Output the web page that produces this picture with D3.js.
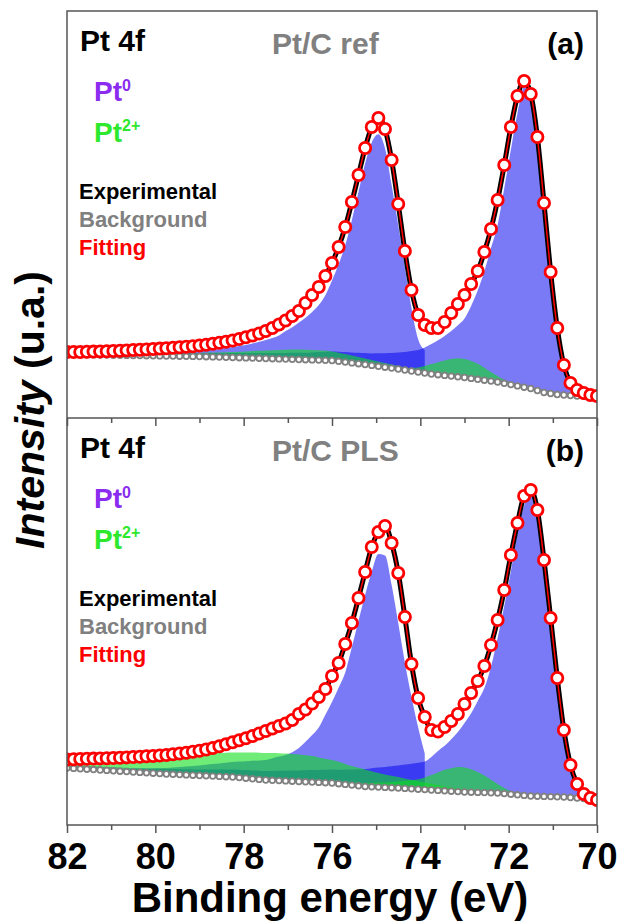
<!DOCTYPE html>
<html>
<head>
<meta charset="utf-8">
<script src="https://cdn.jsdelivr.net/npm/d3@7"></script>
<style>
  body { margin: 0; background: #fff; }
  svg { display: block; font-family: "Liberation Sans", Arial, sans-serif; }
</style>
</head>
<body>
<div id="svg-container"></div>
<script>
// binding energy grid (eV), one point per red circle
const energy = [
  82, 81.85, 81.7, 81.55, 81.4, 81.25, 81.1, 80.95, 80.8, 80.65,
  80.5, 80.35, 80.2, 80.05, 79.9, 79.75, 79.6, 79.45, 79.3, 79.15,
  79, 78.85, 78.7, 78.55, 78.4, 78.25, 78.1, 77.95, 77.8, 77.65,
  77.5, 77.35, 77.2, 77.05, 76.9, 76.75, 76.6, 76.45, 76.3, 76.15,
  76, 75.85, 75.7, 75.55, 75.4, 75.25, 75.1, 74.95, 74.8, 74.65,
  74.5, 74.35, 74.2, 74.05, 73.9, 73.75, 73.6, 73.45, 73.3, 73.15,
  73, 72.85, 72.7, 72.55, 72.4, 72.25, 72.1, 71.95, 71.8, 71.65,
  71.5, 71.35, 71.2, 71.05, 70.9, 70.75, 70.6, 70.45, 70.3, 70.15, 70];

const majorTicks = [82, 80, 78, 76, 74, 72, 70];
const minorTicks = [81, 79, 77, 75, 73, 71];

// ---- (a) Pt/C ref ----
const fitA = [
  66, 66, 66, 66.2, 66.4, 66.6, 66.8, 67, 67.3, 67.6,
  68, 68.3, 68.6, 69, 69.4, 69.8, 70.2, 70.7, 71.2, 71.8,
  72.5, 73.3, 74.2, 75.2, 76.3, 77.5, 79, 80.7, 82.5, 84.5,
  87, 90, 93.5, 97.5, 102, 107, 115, 123, 131, 142,
  155, 171, 191, 216, 243, 270, 291, 300, 289, 258,
  214, 167, 128, 103, 93, 90, 90, 96, 105, 114,
  123, 134, 147, 166, 189, 218, 253, 291, 322, 337,
  324, 281, 215, 146, 90, 53, 35, 28, 25, 23, 22];
const bgA = [
  63.5, 63.4, 63.3, 63.2, 63.1, 63, 62.9, 62.8, 62.7, 62.6,
  62.5, 62.4, 62.3, 62.2, 62.1, 62, 61.9, 61.8, 61.7, 61.6,
  61.5, 61.3, 61.1, 60.9, 60.7, 60.5, 60.3, 60.1, 59.9, 59.7,
  59.5, 59.3, 59.1, 58.9, 58.7, 58.5, 58.3, 58.1, 57.9, 57.7,
  57.5, 56.7, 55.9, 55.1, 54.3, 53.5, 52.6, 51.7, 50.8, 49.9,
  49, 48, 47, 46, 45, 44, 43.3, 42.6, 41.9, 41.2,
  40.5, 39.6, 38.7, 37.8, 36.9, 36, 34.7, 33.4, 32.1, 30.8,
  29.5, 27.5, 25.5, 24.5, 23.5, 23, 22.5, 22, 21.7, 21.4, 21];
// Pt0 component near 74.9 eV (drawn up to the crossing only)
const pt0HighA = [
  0.5, 0.5, 0.6, 0.6, 0.7, 0.8, 0.9, 1, 1, 1.1,
  1.2, 1.3, 1.5, 1.8, 2.1, 2.5, 2.9, 3.5, 4.1, 4.8,
  5.5, 6.2, 7, 8, 9.2, 10.5, 11.7, 13, 14.7, 16.5,
  18.5, 20.7, 23.5, 28, 32, 37, 42, 48, 55, 65,
  80, 97, 117, 143, 172, 201, 223, 232, 219, 183,
  144, 103, 63, 33, 23, null, null, null, null, null,
  null, null, null, null, null, null, null, null, null, null,
  null, null, null, null, null, null, null, null, null, null, null];
// Pt0 component near 71.6 eV
const pt0LowA = [
  1.7, 1.7, 1.8, 1.8, 1.9, 2, 2.1, 2.2, 2.3, 2.4,
  2.5, 2.6, 2.7, 2.8, 2.9, 3, 3.1, 3.2, 3.3, 3.4,
  3.5, 3.7, 3.9, 4.1, 4.3, 4.5, 4.7, 4.9, 5.1, 5.3,
  5.5, 5.7, 6, 6.2, 6.5, 6.7, 7, 7.5, 8, 8.5,
  9, 9.5, 10, 10.5, 11, 11.5, 12, 13, 14, 15,
  16.5, 18, 20, 22, 25.5, 30, 34.5, 39.5, 45, 51.5,
  59, 72.5, 89, 109, 133, 157, 195, 235, 273, 300,
  291, 251, 187, 119, 65, 27, 10.5, 4, 1.5, 0.5, 0.3];
// Pt2+ components
const pt2HighA = [
  0.3, 0.3, 0.4, 0.4, 0.5, 0.5, 0.6, 0.7, 0.8, 0.9,
  1, 1.2, 1.4, 1.6, 1.8, 2, 2.3, 2.6, 2.9, 3.2,
  3.5, 3.9, 4.3, 4.7, 5.1, 5.5, 6, 6.5, 7, 7.5,
  8, 8.5, 9, 9.4, 9.7, 10, 10, 10, 9.8, 9.5,
  9, 8.5, 8, 7.5, 6.8, 6, 5.4, 4.8, 4.2, 3.6,
  3, 2.5, 2, 1.7, 1.4, 1.2, 1, 0.8, 0.7, 0.6,
  0.5, 0.5, 0.4, 0.4, 0.3, 0.3, 0.3, 0.2, 0.2, 0.2,
  0.2, 0.2, 0.1, 0.1, 0.1, 0.1, 0.1, 0.1, 0.1, 0.1, 0.1];
const pt2LowA = [
  0.1, 0.1, 0.1, 0.1, 0.1, 0.1, 0.1, 0.1, 0.1, 0.1,
  0.1, 0.1, 0.1, 0.2, 0.2, 0.2, 0.2, 0.2, 0.2, 0.2,
  0.3, 0.3, 0.3, 0.3, 0.3, 0.3, 0.4, 0.4, 0.4, 0.4,
  0.5, 0.5, 0.5, 0.5, 0.6, 0.6, 0.6, 0.6, 0.7, 0.7,
  0.7, 0.8, 0.8, 0.8, 0.9, 0.9, 1, 1, 1.1, 1.3,
  1.6, 2, 3, 4.5, 7, 10, 12.5, 15, 17, 18.5,
  18.5, 17.5, 15.5, 12.5, 9, 6, 3.5, 2, 1, 0.5,
  0.3, 0.2, 0.2, 0.1, 0.1, 0.1, 0.1, 0.1, 0.1, 0.1, 0.1];

// ---- (b) Pt/C PLS ----
const fitB = [
  65.5, 65.7, 66, 66.2, 66.4, 66.6, 66.8, 67, 67.3, 67.6,
  68, 68.3, 68.7, 69, 69.5, 70, 70.7, 71.5, 72.3, 73.2,
  74.2, 75.5, 77, 78.7, 80.7, 82.7, 84.7, 86.8, 89, 91.5,
  94, 96.5, 99, 101.5, 105, 111, 115.5, 121.5, 128, 136,
  149, 162, 181, 202, 227, 253, 278, 293, 299, 282,
  252, 208, 161, 127, 108, 95, 93.5, 98, 104, 111,
  121, 132, 144, 159, 180, 205, 235, 270, 302, 329,
  335, 315, 265, 207, 147, 95, 60, 41, 31, 27, 25];
const bgB = [
  57, 56.6, 56.2, 55.8, 55.4, 55, 54.6, 54.2, 53.8, 53.4,
  53, 52.6, 52.2, 51.8, 51.4, 51, 50.7, 50.4, 50.1, 49.8,
  49.5, 49.2, 48.9, 48.6, 48.3, 48, 47.4, 46.8, 46.2, 45.6,
  45, 44.7, 44.4, 44.1, 43.8, 43.5, 43.2, 42.9, 42.6, 42.3,
  42, 41.3, 40.6, 39.9, 39.2, 38.5, 38.2, 37.9, 37.6, 37.3,
  37, 36.6, 36.2, 35.8, 35.4, 35, 34.6, 34.2, 33.8, 33.4,
  33, 32.8, 32.6, 32.4, 32.2, 32, 31.4, 30.8, 30.2, 29.6,
  29, 28.8, 28.6, 28.4, 28.2, 28, 27.5, 27, 26.5, 26, 25.5];
const pt0HighB = [
  0, 0, 0, 0, 0.1, 0.2, 0.4, 0.7, 1.2, 2,
  3, 3.6, 4.2, 4.8, 5.4, 6, 6.8, 7.6, 8.4, 9.2,
  10, 11, 12, 13, 14, 15, 16, 17, 18, 19,
  20, 22, 24, 26, 29, 33.5, 40, 47, 55, 68,
  81, 96, 112, 138, 165, 191.5, 215, 233, 232, 203,
  165, 126, 92, 62, 36, null, null, null, null, null,
  null, null, null, null, null, null, null, null, null, null,
  null, null, null, null, null, null, null, null, null, null, null];
const pt0LowB = [
  3, 3.1, 3.2, 3.3, 3.4, 3.5, 3.6, 3.7, 3.8, 3.9,
  4, 4.2, 4.4, 4.6, 4.8, 5, 5.2, 5.4, 5.6, 5.8,
  6, 6.3, 6.6, 6.9, 7.2, 7.5, 7.8, 8.1, 8.4, 8.7,
  9, 9.4, 9.8, 10.2, 10.6, 11, 11.5, 12, 12.5, 13,
  13.5, 14, 15, 15.5, 16.5, 17.5, 18.5, 19.5, 20.5, 21.5,
  22.5, 23.8, 25, 26.5, 28, 33, 39.5, 45, 52, 59.5,
  69, 79, 91.5, 104.5, 126, 155, 187.5, 223, 262, 290,
  302, 284, 234, 177, 117, 65, 30.5, 13, 5.5, 2, 0.5];
const pt2HighB = [
  5, 5.5, 6, 6.5, 7, 8, 9, 10, 11, 12,
  13, 14, 15, 16, 17, 18, 18.8, 19.6, 20.4, 21,
  21.6, 22.2, 22.8, 23.4, 24, 24.6, 25.2, 25.8, 26.3, 26.7,
  27, 27.2, 27.3, 27.3, 27.2, 27, 26.5, 26, 25, 24,
  23, 22, 20.5, 19, 18, 17, 15.5, 14, 13, 12,
  11, 10, 9, 8, 7, 6, 5.3, 4.6, 4, 3.5,
  3, 2.6, 2.2, 1.9, 1.6, 1.4, 1.2, 1, 0.9, 0.8,
  0.7, 0.6, 0.5, 0.5, 0.4, 0.4, 0.3, 0.3, 0.3, 0.2, 0.2];
const pt2LowB = [
  0.3, 0.3, 0.3, 0.3, 0.3, 0.3, 0.3, 0.3, 0.3, 0.3,
  0.4, 0.4, 0.5, 0.5, 0.5, 0.5, 0.6, 0.6, 0.6, 0.7,
  0.8, 0.8, 0.8, 0.9, 0.9, 0.9, 1, 1, 1.1, 1.1,
  1.2, 1.2, 1.3, 1.3, 1.4, 1.5, 1.6, 1.7, 1.8, 1.9,
  2, 2.2, 2.5, 2.7, 3, 3.5, 4, 4.5, 5, 5.7,
  6.5, 7.5, 8.5, 10, 12, 15, 18, 21, 23, 24.5,
  24.5, 23, 20.5, 17, 13, 9, 5.5, 3, 1.5, 0.8,
  0.5, 0.4, 0.3, 0.3, 0.2, 0.2, 0.2, 0.1, 0.1, 0.1, 0.1];

const panels = [
  { top: 11, bottom: 418, fit: fitA, bg: bgA, blue: [pt0LowA, pt0HighA], green: [pt2HighA, pt2LowA],
    title: "Pt/C ref", tag: "(a)", labels: false },
  { top: 418, bottom: 825, fit: fitB, bg: bgB, blue: [pt0LowB, pt0HighB], green: [pt2HighB, pt2LowB],
    title: "Pt/C PLS", tag: "(b)", labels: true }
];

const W = 618, H = 922;
const left = 67, right = 597;

const svg = d3.select('#svg-container').append('svg')
  .attr('width', W)
  .attr('height', H);

const x = d3.scaleLinear().domain([82, 70]).range([left, right]);

panels.forEach((p, k) => {
  const y = d3.scaleLinear().domain([0, 407]).range([p.bottom, p.top]);

  svg.append('clipPath').attr('id', 'clip' + k)
    .append('rect')
    .attr('x', left).attr('y', p.top)
    .attr('width', right - left).attr('height', p.bottom - p.top);

  const g = svg.append('g').attr('clip-path', `url(#clip${k})`);

  const compArea = (arr) => d3.area()
    .defined((d, i) => arr[i] != null)
    .x(d => x(d))
    .y0((d, i) => y(p.bg[i]))
    .y1((d, i) => y(p.bg[i] + arr[i]))
    .curve(d3.curveMonotoneX);

  // Pt0 doublet, semi-transparent blue
  p.blue.forEach(arr => {
    g.append('path')
      .attr('d', compArea(arr)(energy))
      .attr('fill', '#0000ee')
      .attr('fill-opacity', 0.52);
  });

  // Pt2+ doublet, semi-transparent green
  p.green.forEach(arr => {
    g.append('path')
      .attr('d', compArea(arr)(energy))
      .attr('fill', 'rgb(15,222,30)')
      .attr('fill-opacity', 0.6);
  });

  // background
  g.selectAll('.bgpt')
    .data(energy)
    .join('circle')
    .attr('cx', d => x(d))
    .attr('cy', (d, i) => y(p.bg[i]))
    .attr('r', 2.8)
    .attr('fill', '#fff')
    .attr('stroke', '#808080')
    .attr('stroke-width', 1.8);

  const line = d3.line()
    .x(d => x(d))
    .y((d, i) => y(p.fit[i]))
    .curve(d3.curveMonotoneX);

  // experimental (thick black) and fitting (red)
  g.append('path').attr('d', line(energy))
    .attr('fill', 'none').attr('stroke', '#000').attr('stroke-width', 5);
  g.append('path').attr('d', line(energy))
    .attr('fill', 'none').attr('stroke', '#f00').attr('stroke-width', 1.5);

  g.selectAll('.fitpt')
    .data(energy)
    .join('circle')
    .attr('cx', d => x(d))
    .attr('cy', (d, i) => y(p.fit[i]))
    .attr('r', 5.6)
    .attr('fill', '#fff')
    .attr('stroke', '#f00')
    .attr('stroke-width', 2.8);

  // x ticks on the bottom edge of each panel
  const axMajor = svg.append('g')
    .attr('transform', `translate(0,${p.bottom})`)
    .call(d3.axisBottom(x).tickValues(majorTicks).tickSize(8).tickSizeOuter(0)
      .tickPadding(10)
      .tickFormat(p.labels ? d3.format('d') : ''));
  const axMinor = svg.append('g')
    .attr('transform', `translate(0,${p.bottom})`)
    .call(d3.axisBottom(x).tickValues(minorTicks).tickSize(5).tickSizeOuter(0).tickFormat(''));
  [axMajor, axMinor].forEach(a => {
    a.select('.domain').remove();
    a.selectAll('line').attr('stroke', '#555').attr('stroke-width', 1.5);
  });
  axMajor.selectAll('text')
    .attr('font-size', 36)
    .attr('font-weight', 'bold')
    .attr('fill', '#000')
    .attr('font-family', '"Liberation Sans", Arial, sans-serif');

  // labels inside the panel
  const t = p.top;
  const lab = svg.append('g').attr('font-weight', 'bold');
  lab.append('text').attr('x', 80).attr('y', t + 40).attr('font-size', 30).attr('fill', '#000').text('Pt 4f');
  lab.append('text').attr('x', 272).attr('y', t + 43).attr('font-size', 30).attr('fill', '#808080').text(p.title);
  lab.append('text').attr('x', 584).attr('y', t + 43).attr('font-size', 30).attr('fill', '#000')
    .attr('text-anchor', 'end').text(p.tag);

  const s0 = lab.append('text').attr('x', 94).attr('y', t + 90).attr('font-size', 28).attr('fill', '#8b2bf0');
  s0.append('tspan').text('Pt');
  s0.append('tspan').attr('dy', -10).attr('font-size', 16).text('0');
  const s2 = lab.append('text').attr('x', 94).attr('y', t + 131).attr('font-size', 28).attr('fill', '#2ee82e');
  s2.append('tspan').text('Pt');
  s2.append('tspan').attr('dy', -11).attr('font-size', 16).text('2+');

  lab.append('text').attr('x', 79).attr('y', t + 188).attr('font-size', 22).attr('fill', '#000').text('Experimental');
  lab.append('text').attr('x', 79).attr('y', t + 216).attr('font-size', 22).attr('fill', '#808080').text('Background');
  lab.append('text').attr('x', 79).attr('y', t + 244).attr('font-size', 22).attr('fill', '#f00').text('Fitting');
});

// frame
svg.append('rect')
  .attr('x', left).attr('y', 11)
  .attr('width', right - left).attr('height', 825 - 11)
  .attr('fill', 'none').attr('stroke', '#555').attr('stroke-width', 1.5);
svg.append('line')
  .attr('x1', left).attr('x2', right).attr('y1', 418).attr('y2', 418)
  .attr('stroke', '#555').attr('stroke-width', 1.5);

// axis titles
svg.append('text')
  .attr('x', 330).attr('y', 912)
  .attr('text-anchor', 'middle')
  .attr('font-size', 42).attr('font-weight', 'bold')
  .text('Binding energy (eV)');

const yt = svg.append('text')
  .attr('transform', 'translate(44,410) rotate(-90)')
  .attr('text-anchor', 'middle')
  .attr('font-size', 41).attr('font-weight', 'bold');
yt.append('tspan').attr('font-style', 'italic').text('Intensity');
yt.append('tspan').text(' (u.a.)');
</script>
</body>
</html>
